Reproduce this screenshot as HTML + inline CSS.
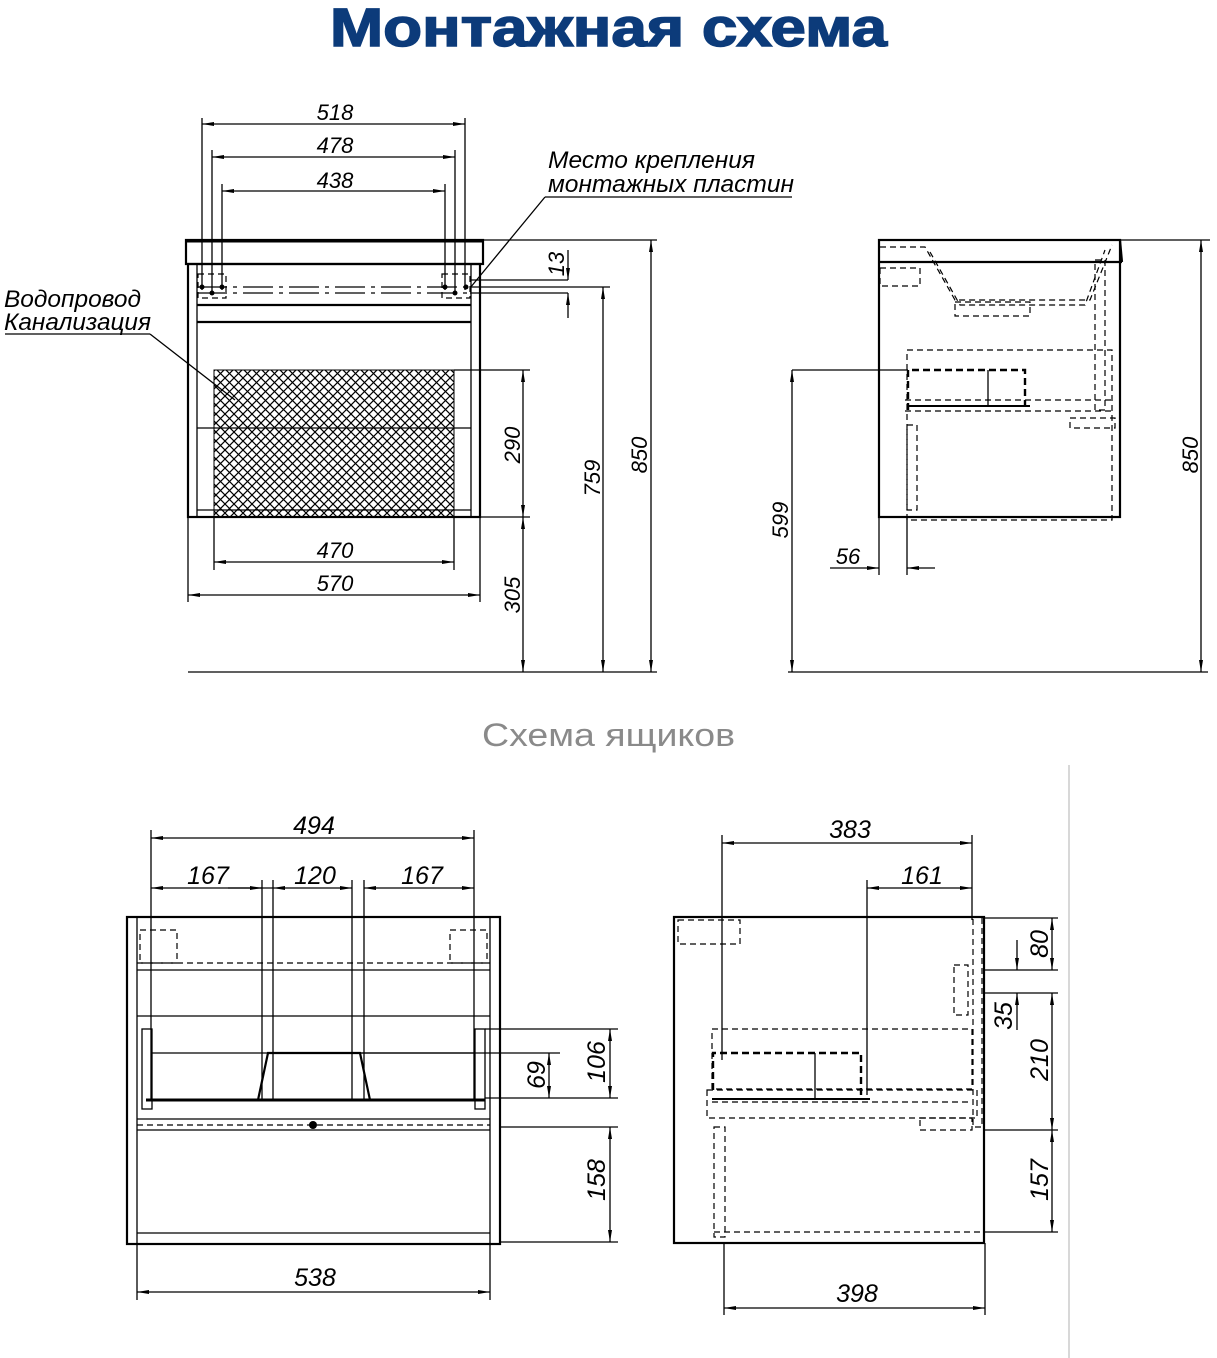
<!DOCTYPE html>
<html><head><meta charset="utf-8"><style>
html,body{margin:0;padding:0;background:#fff;width:1217px;height:1358px;overflow:hidden}
svg{display:block}
.t{font-family:"Liberation Sans",sans-serif;font-style:italic;font-size:22px;fill:#000}
.l{stroke:#000;stroke-width:1.3;fill:none}
.b{stroke:#000;stroke-width:2.2;fill:none}
.d{stroke:#000;stroke-width:1.2;fill:none;stroke-dasharray:6 4}
.dd{stroke:#000;stroke-width:2.4;fill:none;stroke-dasharray:7 4}
</style></head><body>
<svg width="1217" height="1358" viewBox="0 0 1217 1358" xmlns="http://www.w3.org/2000/svg">
<defs>
<marker id="a" viewBox="0 0 12 6" refX="12" refY="3" markerWidth="12" markerHeight="6" orient="auto-start-reverse" markerUnits="userSpaceOnUse"><path d="M0,1 L12,3 L0,5 z" fill="#000"/></marker>
<pattern id="h" width="9" height="9" patternUnits="userSpaceOnUse"><path d="M0,0 L9,9 M9,0 L0,9" stroke="#000" stroke-width="1.2"/></pattern>
</defs>
<text x="330" y="46" textLength="557" lengthAdjust="spacingAndGlyphs" style="font-family:'Liberation Sans',sans-serif;font-weight:bold;font-size:54px;fill:#0c3b7a;stroke:#0c3b7a;stroke-width:1.5">Монтажная схема</text>
<text x="482" y="746" textLength="253" lengthAdjust="spacingAndGlyphs" style="font-family:'Liberation Sans',sans-serif;font-size:32px;fill:#8a8a8a">Схема ящиков</text>

<rect x="186" y="240" width="297" height="24" class="b"/>
<line x1="186" y1="241" x2="483" y2="241" stroke="#000" stroke-width="3"/>
<rect x="188" y="264" width="292" height="253" class="b"/>
<line x1="197" y1="264" x2="197" y2="517" class="l"/>
<line x1="471" y1="264" x2="471" y2="517" class="l"/>
<line x1="197" y1="305" x2="471" y2="305" class="b"/>
<line x1="197" y1="322" x2="471" y2="322" class="b"/>
<line x1="197" y1="428" x2="471" y2="428" class="l"/>
<line x1="197" y1="510" x2="471" y2="510" class="l"/>
<rect x="214" y="370" width="240" height="147" fill="url(#h)" stroke="#000" stroke-width="1"/>
<line x1="197" y1="287" x2="470" y2="287" class="l" stroke-dasharray="30 6 4 6"/>
<line x1="197" y1="293" x2="470" y2="293" class="l" stroke-dasharray="30 6 4 6"/>
<rect x="198" y="274" width="28" height="24" class="d"/><rect x="442" y="274" width="28" height="24" class="d"/>
<circle cx="202" cy="287" r="2.5"/><circle cx="212" cy="293" r="2.5"/><circle cx="222" cy="287" r="2.5"/>
<circle cx="445" cy="287" r="2.5"/><circle cx="455" cy="293" r="2.5"/><circle cx="466" cy="287" r="2.5"/>
<g class="l">
<line x1="202" y1="118" x2="202" y2="290"/><line x1="465" y1="118" x2="465" y2="290"/>
<line x1="212" y1="150" x2="212" y2="295"/><line x1="455" y1="150" x2="455" y2="295"/>
<line x1="222" y1="184" x2="222" y2="290"/><line x1="445" y1="184" x2="445" y2="290"/>
<line x1="202" y1="124" x2="465" y2="124" marker-start="url(#a)" marker-end="url(#a)"/>
<line x1="212" y1="157" x2="455" y2="157" marker-start="url(#a)" marker-end="url(#a)"/>
<line x1="222" y1="191" x2="445" y2="191" marker-start="url(#a)" marker-end="url(#a)"/>
<line x1="214" y1="517" x2="214" y2="570"/><line x1="454" y1="517" x2="454" y2="570"/>
<line x1="188" y1="517" x2="188" y2="602"/><line x1="480" y1="517" x2="480" y2="602"/>
<line x1="214" y1="562" x2="454" y2="562" marker-start="url(#a)" marker-end="url(#a)"/>
<line x1="188" y1="595" x2="480" y2="595" marker-start="url(#a)" marker-end="url(#a)"/>
<line x1="454" y1="370" x2="530" y2="370"/><line x1="480" y1="517" x2="530" y2="517"/>
<line x1="483" y1="240" x2="657" y2="240"/><line x1="470" y1="287" x2="610" y2="287"/>
<line x1="523" y1="370" x2="523" y2="517" marker-start="url(#a)" marker-end="url(#a)"/>
<line x1="523" y1="517" x2="523" y2="672" marker-start="url(#a)" marker-end="url(#a)"/>
<line x1="603" y1="287" x2="603" y2="672" marker-start="url(#a)" marker-end="url(#a)"/>
<line x1="651" y1="240" x2="651" y2="672" marker-start="url(#a)" marker-end="url(#a)"/>
<line x1="568" y1="250" x2="568" y2="280" marker-end="url(#a)"/><line x1="568" y1="318" x2="568" y2="293" marker-end="url(#a)"/>
<line x1="470" y1="280" x2="568" y2="280"/><line x1="470" y1="293" x2="568" y2="293"/>
<line x1="188" y1="672" x2="657" y2="672"/>
<line x1="470" y1="288" x2="545" y2="197"/><line x1="545" y1="197" x2="792" y2="197"/>
<line x1="5" y1="334" x2="150" y2="334"/><line x1="150" y1="334" x2="235" y2="400"/>
</g>
<text class="t" x="335" y="120" text-anchor="middle">518</text>
<text class="t" x="335" y="153" text-anchor="middle">478</text>
<text class="t" x="335" y="188" text-anchor="middle">438</text>
<text class="t" x="335" y="558" text-anchor="middle">470</text>
<text class="t" x="335" y="591" text-anchor="middle">570</text>
<text class="t" x="548" y="168" textLength="207" lengthAdjust="spacingAndGlyphs" style="font-size:24px">Место крепления</text>
<text class="t" x="548" y="192" textLength="246" lengthAdjust="spacingAndGlyphs" style="font-size:24px">монтажных пластин</text>
<text class="t" x="4" y="307" textLength="137" lengthAdjust="spacingAndGlyphs" style="font-size:24px">Водопровод</text>
<text class="t" x="4" y="330" textLength="147" lengthAdjust="spacingAndGlyphs" style="font-size:24px">Канализация</text>
<text class="t" transform="translate(520,445) rotate(-90)" text-anchor="middle">290</text>
<text class="t" transform="translate(520,595) rotate(-90)" text-anchor="middle">305</text>
<text class="t" transform="translate(600,478) rotate(-90)" text-anchor="middle">759</text>
<text class="t" transform="translate(647,455) rotate(-90)" text-anchor="middle">850</text>
<text class="t" transform="translate(564,264) rotate(-90)" text-anchor="middle">13</text>

<rect x="879" y="240" width="241" height="277" class="b"/>
<line x1="879" y1="262" x2="1122" y2="262" class="b"/>
<line x1="1120" y1="240" x2="1122" y2="262" class="b"/>
<g class="d">
<path d="M880,247 H925 L955,300 H1090 L1112,245"/>
<path d="M930,252 L960,305 H1085 L1105,250"/>
<rect x="955" y="302" width="75" height="14"/>
<rect x="907" y="350" width="205" height="170"/>
<rect x="907" y="425" width="10" height="85"/>
<rect x="1095" y="260" width="10" height="150"/>
<line x1="905" y1="400" x2="1115" y2="400"/><line x1="905" y1="411" x2="1115" y2="411"/>
<rect x="1070" y="418" width="45" height="10"/>
<rect x="880" y="268" width="40" height="18"/>
</g>
<g class="dd"><path d="M908,410 V370 H1025 V405"/></g>
<line x1="988" y1="370" x2="988" y2="405" class="l"/>
<line x1="908" y1="406" x2="1030" y2="406" stroke="#000" stroke-width="2"/>
<g class="l">
<line x1="1120" y1="240" x2="1210" y2="240"/>
<line x1="1201" y1="240" x2="1201" y2="672" marker-start="url(#a)" marker-end="url(#a)"/>
<line x1="792" y1="370" x2="908" y2="370"/>
<line x1="792" y1="370" x2="792" y2="672" marker-start="url(#a)" marker-end="url(#a)"/>
<line x1="879" y1="517" x2="879" y2="575"/><line x1="907" y1="517" x2="907" y2="575"/>
<line x1="830" y1="568" x2="879" y2="568" marker-end="url(#a)"/><line x1="935" y1="568" x2="907" y2="568" marker-end="url(#a)"/>
<line x1="788" y1="672" x2="1208" y2="672"/>
</g>
<text class="t" x="848" y="564" text-anchor="middle">56</text>
<text class="t" transform="translate(788,520) rotate(-90)" text-anchor="middle">599</text>
<text class="t" transform="translate(1198,455) rotate(-90)" text-anchor="middle">850</text>

<rect x="127" y="917" width="373" height="327" class="b"/>
<line x1="137" y1="917" x2="137" y2="1244" class="l"/><line x1="490" y1="917" x2="490" y2="1244" class="l"/>
<line x1="137" y1="970" x2="490" y2="970" class="l"/>
<line x1="137" y1="1016" x2="490" y2="1016" class="l"/>
<line x1="137" y1="1119" x2="490" y2="1119" class="l"/>
<line x1="137" y1="1130" x2="490" y2="1130" class="l"/>
<line x1="137" y1="1233" x2="490" y2="1233" class="l"/>
<line x1="137" y1="963" x2="490" y2="963" class="d"/>
<line x1="137" y1="1125" x2="490" y2="1125" class="d"/>
<rect x="140" y="930" width="37" height="33" class="d"/><rect x="450" y="930" width="37" height="33" class="d"/>
<rect x="142" y="1029" width="10" height="80" class="l"/><rect x="475" y="1029" width="10" height="80" class="l"/>
<line x1="146" y1="1100" x2="485" y2="1100" stroke="#000" stroke-width="3"/>
<path d="M258,1100 L268,1053 H360 L370,1100" class="b"/>
<line x1="152" y1="1053" x2="475" y2="1053" class="l"/>
<circle cx="313" cy="1125" r="4"/>
<g class="l">
<line x1="151" y1="830" x2="151" y2="1100"/><line x1="474" y1="830" x2="474" y2="1100"/>
<line x1="262" y1="880" x2="262" y2="1100"/><line x1="273" y1="880" x2="273" y2="1100"/>
<line x1="352" y1="880" x2="352" y2="1100"/><line x1="364" y1="880" x2="364" y2="1100"/>
<line x1="151" y1="838" x2="474" y2="838" marker-start="url(#a)" marker-end="url(#a)"/>
<line x1="151" y1="888" x2="262" y2="888" marker-start="url(#a)" marker-end="url(#a)"/>
<line x1="228" y1="888" x2="273" y2="888"/>
<line x1="273" y1="888" x2="352" y2="888" marker-start="url(#a)" marker-end="url(#a)"/>
<line x1="364" y1="888" x2="474" y2="888" marker-start="url(#a)" marker-end="url(#a)"/>
<line x1="137" y1="1244" x2="137" y2="1300"/><line x1="490" y1="1244" x2="490" y2="1300"/>
<line x1="137" y1="1292" x2="490" y2="1292" marker-start="url(#a)" marker-end="url(#a)"/>
<line x1="485" y1="1029" x2="618" y2="1029"/><line x1="360" y1="1053" x2="560" y2="1053"/>
<line x1="485" y1="1098" x2="618" y2="1098"/><line x1="500" y1="1127" x2="618" y2="1127"/>
<line x1="500" y1="1242" x2="618" y2="1242"/>
<line x1="610" y1="1029" x2="610" y2="1098" marker-start="url(#a)" marker-end="url(#a)"/>
<line x1="549" y1="1053" x2="549" y2="1098" marker-start="url(#a)" marker-end="url(#a)"/>
<line x1="610" y1="1127" x2="610" y2="1242" marker-start="url(#a)" marker-end="url(#a)"/>
</g>
<text class="t" x="314" y="834" text-anchor="middle" style="font-size:25px">494</text>
<text class="t" x="208" y="884" text-anchor="middle" style="font-size:25px">167</text>
<text class="t" x="315" y="884" text-anchor="middle" style="font-size:25px">120</text>
<text class="t" x="422" y="884" text-anchor="middle" style="font-size:25px">167</text>
<text class="t" x="315" y="1286" text-anchor="middle" style="font-size:25px">538</text>
<text class="t" transform="translate(605,1062) rotate(-90)" text-anchor="middle" style="font-size:25px">106</text>
<text class="t" transform="translate(545,1075) rotate(-90)" text-anchor="middle" style="font-size:25px">69</text>
<text class="t" transform="translate(605,1180) rotate(-90)" text-anchor="middle" style="font-size:25px">158</text>

<rect x="674" y="917" width="310" height="326" class="b"/>
<g class="d">
<rect x="712" y="1029" width="260" height="60"/>
<rect x="707" y="1090" width="270" height="28"/>
<line x1="712" y1="1102" x2="972" y2="1102"/>
<rect x="714" y="1127" width="11" height="110"/>
<line x1="714" y1="1232" x2="984" y2="1232"/>
<rect x="954" y="965" width="14" height="50"/>
<rect x="973" y="917" width="9" height="210"/>
<rect x="920" y="1118" width="52" height="12"/>
<rect x="678" y="920" width="62" height="24"/>
</g>
<g class="dd"><path d="M713,1090 V1053 H861 V1095"/></g>
<line x1="815" y1="1053" x2="815" y2="1100" class="l"/>
<line x1="712" y1="1099" x2="870" y2="1099" stroke="#000" stroke-width="2"/>
<g class="l">
<line x1="722" y1="835" x2="722" y2="1060"/><line x1="972" y1="835" x2="972" y2="920"/>
<line x1="867" y1="880" x2="867" y2="1095"/>
<line x1="722" y1="843" x2="972" y2="843" marker-start="url(#a)" marker-end="url(#a)"/>
<line x1="867" y1="888" x2="972" y2="888" marker-start="url(#a)" marker-end="url(#a)"/>
<line x1="724" y1="1243" x2="724" y2="1315"/><line x1="985" y1="1243" x2="985" y2="1315"/>
<line x1="724" y1="1308" x2="985" y2="1308" marker-start="url(#a)" marker-end="url(#a)"/>
<line x1="984" y1="918" x2="1058" y2="918"/><line x1="984" y1="970" x2="1058" y2="970"/>
<line x1="984" y1="993" x2="1058" y2="993"/><line x1="984" y1="1130" x2="1058" y2="1130"/>
<line x1="984" y1="1232" x2="1058" y2="1232"/>
<line x1="1052" y1="918" x2="1052" y2="970" marker-start="url(#a)" marker-end="url(#a)"/>
<line x1="1017" y1="940" x2="1017" y2="970" marker-end="url(#a)"/><line x1="1017" y1="1030" x2="1017" y2="993" marker-end="url(#a)"/>
<line x1="1052" y1="993" x2="1052" y2="1130" marker-start="url(#a)" marker-end="url(#a)"/>
<line x1="1052" y1="1130" x2="1052" y2="1232" marker-start="url(#a)" marker-end="url(#a)"/>
</g>
<line x1="1069" y1="765" x2="1069" y2="1358" stroke="#ccc" stroke-width="1.5"/>
<text class="t" x="850" y="838" text-anchor="middle" style="font-size:25px">383</text>
<text class="t" x="922" y="884" text-anchor="middle" style="font-size:25px">161</text>
<text class="t" x="857" y="1302" text-anchor="middle" style="font-size:25px">398</text>
<text class="t" transform="translate(1048,944) rotate(-90)" text-anchor="middle" style="font-size:25px">80</text>
<text class="t" transform="translate(1012,1016) rotate(-90)" text-anchor="middle" style="font-size:25px">35</text>
<text class="t" transform="translate(1048,1060) rotate(-90)" text-anchor="middle" style="font-size:25px">210</text>
<text class="t" transform="translate(1048,1180) rotate(-90)" text-anchor="middle" style="font-size:25px">157</text>
</svg>
</body></html>
